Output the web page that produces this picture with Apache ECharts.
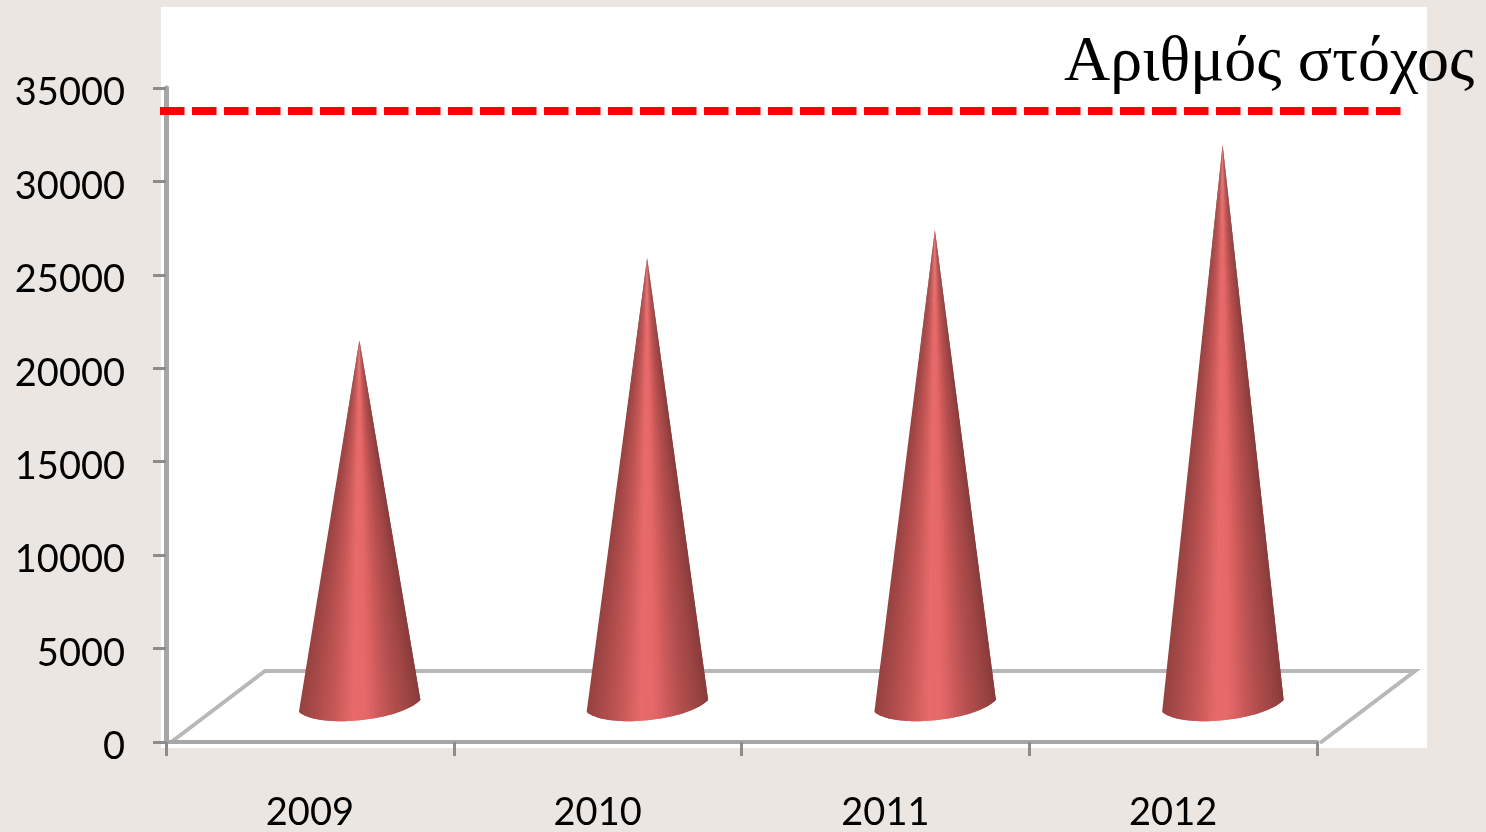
<!DOCTYPE html>
<html>
<head>
<meta charset="utf-8">
<style>html,body{margin:0;padding:0;background:#ebe6e2;}#c{width:1486px;height:832px;}</style>
<script src="https://cdn.jsdelivr.net/npm/echarts@6/dist/echarts.min.js"></script>
</head>
<body>
<div id="c"></div>
<script>
const categories = ['2009', '2010', '2011', '2012'];
const coneValues = [21500, 25900, 27400, 31950];
const targetValue = [33770];
const titleText = 'Αριθμός στόχος';

const chart = echarts.init(document.getElementById('c'), null, {renderer: 'canvas'});
const shade = ['#964241', '#a84a49', '#bb5251', '#cf5d5c', '#e86a6a', '#e66868', '#cb5a59', '#b34e4d', '#a04645', '#873b3a'];

function bez(p0, p1, p2, p3, t) {
  const u = 1 - t;
  return [
    u*u*u*p0[0] + 3*u*u*t*p1[0] + 3*u*t*t*p2[0] + t*t*t*p3[0],
    u*u*u*p0[1] + 3*u*u*t*p1[1] + 3*u*t*t*p2[1] + t*t*t*p3[1]
  ];
}

function coneItem(params, api) {
  const idx = api.value(0);
  const tip = api.coord([idx, api.value(1)]);
  const zero = api.coord([idx, 0]);
  const cx = tip[0] + 49.5;
  const apex = [cx, tip[1]];
  const by = zero[1];
  const p0 = [cx - 60.5, by - 30], p1 = [cx - 40, by - 13], p2 = [cx + 40, by - 21], p3 = [cx + 61, by - 42];
  const children = [];
  const n = 40;
  for (let i = 0; i < n; i++) {
    const a = bez(p0, p1, p2, p3, i / n);
    const b = bez(p0, p1, p2, p3, (i + 1) / n);
    const c = bez(p0, p1, p2, p3, Math.min(n, i + 2) / n);
    const frac = ((a[0] + b[0]) / 2 - p0[0]) / (p3[0] - p0[0]);
    const col = echarts.color.lerp(frac, shade);
    children.push({
      type: 'polygon',
      z2: i,
      shape: {points: [apex, a, b, c]},
      style: {fill: col}
    });
  }
  return {type: 'group', children};
}

function targetItem(params, api) {
  const y = api.coord([0, api.value(1)])[1];
  const cs = params.coordSys;
  return {
    type: 'line',
    shape: {x1: cs.x - 6, y1: y, x2: cs.x + cs.width + 84, y2: y},
    style: {stroke: '#ff0000', lineWidth: 8, lineDash: [24.5, 7.5]}
  };
}

chart.setOption({
  animation: false,
  backgroundColor: '#ebe6e2',
  title: {
    text: titleText,
    left: 1059,
    top: 26,
    textStyle: {fontFamily: 'Liberation Serif', fontSize: 64, fontWeight: 'normal', color: '#000'}
  },
  grid: {left: 166, top: 88, width: 1151, height: 654},
  graphic: [
    {type: 'rect', z: -20, shape: {x: 161, y: 7, width: 1266, height: 741}, style: {fill: '#ffffff'}},
    {type: 'polyline', z: 0, shape: {points: [[170, 743], [265, 671], [1415, 671], [1320, 743]]},
     style: {stroke: '#b8b8b8', lineWidth: 4, fill: null}}
  ],
  xAxis: {
    type: 'category',
    data: categories,
    offset: 2,
    axisLine: {show: true, lineStyle: {color: '#a6a6a6', width: 4}},
    axisTick: {show: true, alignWithLabel: false, length: 14, lineStyle: {color: '#8c8c8c', width: 3}},
    axisLabel: {margin: 50, color: '#000', fontFamily: 'Lato', fontSize: 38},
    splitLine: {show: false}
  },
  yAxis: {
    type: 'value',
    min: 0,
    max: 35000,
    interval: 5000,
    axisLine: {show: true, lineStyle: {color: '#a6a6a6', width: 5}},
    axisTick: {show: true, length: 13, lineStyle: {color: '#8c8c8c', width: 3}},
    axisLabel: {
      margin: 41,
      formatter: v => '{n|' + v + '}',
      rich: {n: {color: '#000', fontFamily: 'Lato', fontSize: 38, padding: [10, 0, 0, 0]}}
    },
    splitLine: {show: false}
  },
  series: [
    {
      name: 'cones', type: 'custom', z: 5, clip: false,
      renderItem: coneItem,
      data: coneValues.map((v, i) => [i, v]),
      encode: {x: 0, y: 1}
    },
    {
      name: 'target', type: 'custom', z: 6, clip: false,
      renderItem: targetItem,
      data: targetValue.map(v => [0, v]),
      encode: {x: 0, y: 1}
    }
  ]
});
</script>
</body>
</html>
